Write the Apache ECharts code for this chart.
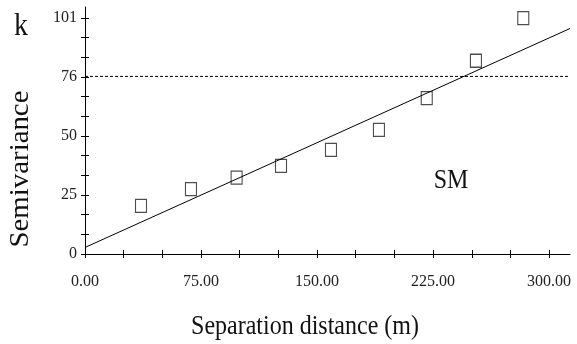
<!DOCTYPE html>
<html>
<head>
<meta charset="utf-8">
<script src="https://cdn.jsdelivr.net/npm/echarts@6/dist/echarts.min.js"></script>
<style>
html,body{margin:0;padding:0;background:#fff;}
#chart{width:577px;height:344px;}
</style>
</head>
<body>
<div id="chart"></div>
<script>
// Observed semivariance (open squares)
const lagDistance = [36.2, 68.5, 98.0, 126.7, 159.0, 190.0, 220.9, 252.7, 283.3];
const semivariance = [20.6, 27.8, 32.7, 37.7, 44.6, 53.1, 66.7, 82.7, 100.9];
// Fitted linear model (solid line) end points
const modelX = [0, 313.5];
const modelY = [2.8, 96.5];
// Sill (dotted line)
const sillValue = 76;
// Axis ticks and labels
const xTickValues = [0, 25, 50, 75, 100, 125, 150, 175, 200, 225, 250, 275, 300];
const xLabelValues = [0, 75, 150, 225, 300];
const xTickLabels = ['0.00', '75.00', '150.00', '225.00', '300.00'];
const yTickValues = [0, 101/12, 202/12, 303/12, 404/12, 505/12, 606/12, 707/12, 808/12, 909/12, 1010/12, 1111/12, 101];
const yLabelValues = [0, 25.25, 50.5, 75.75, 101];
const yTickLabels = ['0', '25', '50', '76', '101'];

const X_MAX = 313.5, Y_MAX = 105.7;
const serif = '"Liberation Serif", "Times New Roman", serif';

const chart = echarts.init(document.getElementById('chart'), null, {renderer: 'canvas'});

function baseX(inside) {
  return {
    type: 'value', min: 0, max: X_MAX, position: 'bottom',
    axisLine: {show: !inside, onZero: false, lineStyle: {color: '#000', width: 1}},
    axisTick: {show: true, inside: inside, length: 4, customValues: xTickValues, lineStyle: {color: '#000', width: 1}},
    axisLabel: {show: !inside, customValues: xLabelValues, margin: 20,
      formatter: v => { const i = xLabelValues.findIndex(a => Math.abs(a - v) < 1e-6); return i >= 0 ? xTickLabels[i] : ''; },
      fontFamily: serif, fontSize: 16, color: '#222'},
    splitLine: {show: false}
  };
}
function baseY(inside) {
  return {
    type: 'value', min: 0, max: Y_MAX, position: 'left',
    axisLine: {show: !inside, onZero: false, lineStyle: {color: '#000', width: 1}},
    axisTick: {show: true, inside: inside, length: 4, customValues: yTickValues, lineStyle: {color: '#000', width: 1}},
    axisLabel: {show: !inside, customValues: yLabelValues, margin: 8, padding: [5, 0, 0, 0],
      formatter: v => { const i = yLabelValues.findIndex(a => Math.abs(a - v) < 1e-6); return i >= 0 ? yTickLabels[i] : ''; },
      fontFamily: serif, fontSize: 16, color: '#222'},
    splitLine: {show: false}
  };
}

chart.setOption({
  animation: false,
  backgroundColor: '#fff',
  grid: {left: 85, right: 7, top: 7, bottom: 90, containLabel: false},
  xAxis: [baseX(false), baseX(true)],
  yAxis: [baseY(false), baseY(true)],
  graphic: [
    {type: 'text', x: 21, y: 27, scaleY: 1.1, style: {text: 'k', font: '28px ' + serif, fill: '#111', align: 'center', verticalAlign: 'middle'}},
    {type: 'text', x: 21, y: 169, rotation: Math.PI / 2, scaleX: 1.03, style: {text: 'Semivariance', font: '28px ' + serif, fill: '#111', align: 'center', verticalAlign: 'middle'}},
    {type: 'text', x: 305, y: 327, scaleY: 1.1, style: {text: 'Separation distance (m)', font: '24px ' + serif, fill: '#111', align: 'center', verticalAlign: 'middle'}},
    {type: 'text', x: 451, y: 181, scaleY: 1.12, style: {text: 'SM', font: '24px ' + serif, fill: '#111', align: 'center', verticalAlign: 'middle'}}
  ],
  series: [
    {
      name: 'sill', type: 'line', xAxisIndex: 0, yAxisIndex: 0,
      data: [[0, sillValue], [X_MAX, sillValue]],
      symbol: 'none', silent: true,
      lineStyle: {color: '#000', width: 1, type: [3, 2]}
    },
    {
      name: 'model', type: 'line', xAxisIndex: 0, yAxisIndex: 0,
      data: modelX.map((x, i) => [x, modelY[i]]),
      symbol: 'none', silent: true,
      lineStyle: {color: '#000', width: 1}
    },
    {
      name: 'observed', type: 'scatter', xAxisIndex: 0, yAxisIndex: 0,
      data: lagDistance.map((x, i) => [x, semivariance[i]]),
      symbol: 'rect', symbolSize: [11, 13],
      itemStyle: {color: 'rgba(255,255,255,0)', borderColor: '#222', borderWidth: 1.2}
    }
  ]
});
</script>
</body>
</html>
